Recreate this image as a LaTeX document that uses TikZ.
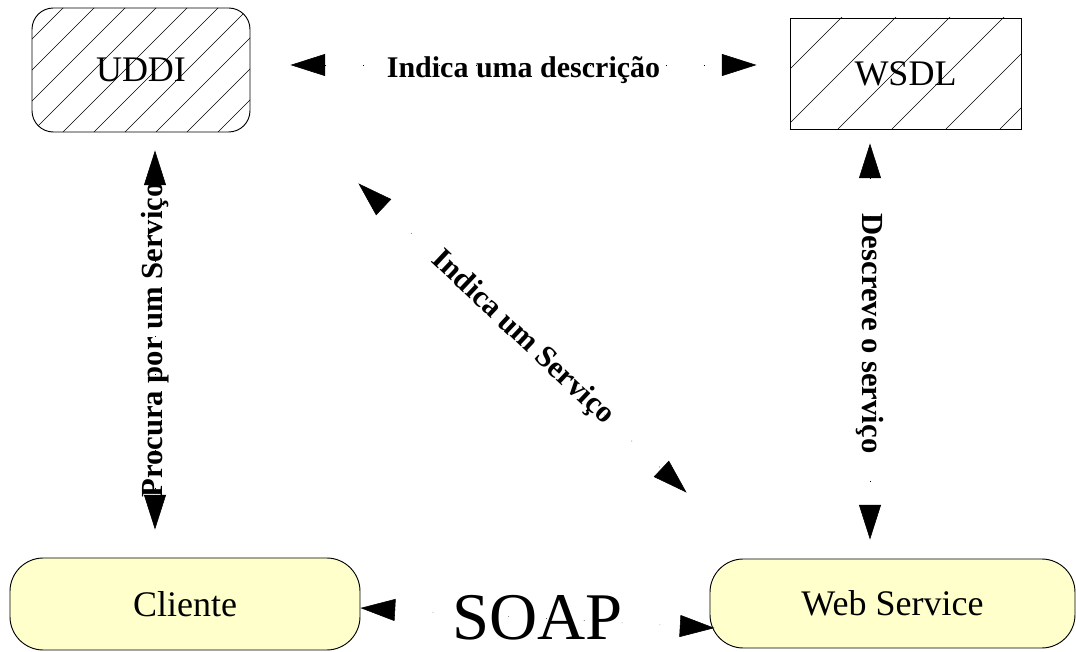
\documentclass[tikz,border=0pt]{standalone}
\usepackage{fontspec}
\setmainfont{Liberation Serif}
\usetikzlibrary{arrows.meta,calc}
\definecolor{yellowfill}{HTML}{FFFFCC}
\begin{document}
\begin{tikzpicture}[x=0.75pt,y=-0.75pt,
  box/.style={draw=black, line width=0.7pt, inner sep=0pt, font=\fontsize{27}{30}\selectfont},
  hatchA/.style={path picture={\foreach \k in {-5,...,8} \draw[line width=0.5pt] ($(path picture bounding box.south west)+(\k*31,0)$) -- ++(300,-300);}},
  hatchB/.style={path picture={\foreach \k in {-4,...,4} \draw[line width=0.5pt] ($(path picture bounding box.south west)+(48+\k*54,0)$) -- ++(300,-300);}},
  term/.style={box, fill=yellowfill, rounded corners=25pt},
  conn/.style={line width=0.4pt, dash pattern=on 0.4pt off 28pt, {Triangle[length=26pt,width=16.5pt]}-{Triangle[length=26pt,width=16.5pt]}},
  lbl/.style={font=\bfseries\fontsize{23}{27}\selectfont, inner sep=1pt}]
\useasboundingbox (0,0) rectangle (1076,652);

\node[box, hatchA, rounded corners=16pt, minimum width=163.5pt, minimum height=93pt] (UDDI) at (141,70) {UDDI};
\node[box, hatchB, minimum width=173.25pt, minimum height=83.25pt] (WSDL) at (905.5,73.5) {WSDL};
\node[term, minimum width=262.5pt, minimum height=69pt] (Cliente) at (185,604) {Cliente};
\node[term, minimum width=273.75pt, minimum height=66.75pt] (Web) at (892.5,603.5) {Web Service};

\draw[conn] ($(UDDI.east)+(40,-5)$) -- node[lbl, font=\bfseries\fontsize{22.5}{27}\selectfont, yshift=-3.5pt]{Indica uma descrição} ($(WSDL.west)+(-33,-8.5)$);
\draw[conn] ($(UDDI.south)+(14,18)$) -- node[lbl, rotate=90]{Procura por um Serviço} ($(Cliente.north)+(-30,-28)$);
\draw[conn] ($(WSDL.south)+(-35.5,14)$) -- node[lbl, rotate=-90, pos=0.48]{Descreve o serviço} ($(Web.north)+(-22.5,-19)$);
\draw[conn] ($(UDDI.south east)+(108,51)$) -- node[lbl, sloped]{Indica um Serviço} ($(Web.north west)+(-23,-66)$);
\draw[conn] ($(Cliente.east)+(0,4)$) -- node[font=\fontsize{50}{55}\selectfont, inner sep=0pt]{SOAP} ($(Web.west)+(5,24.5)$);
\end{tikzpicture}
\end{document}
